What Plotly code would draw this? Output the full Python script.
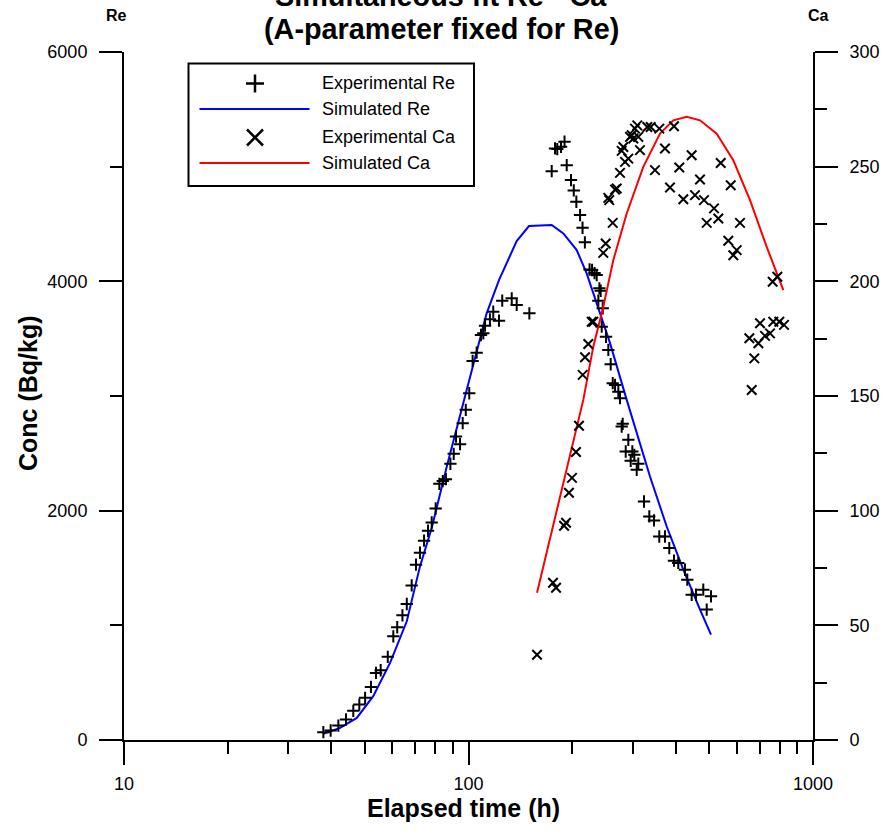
import plotly.graph_objects as go

# ---- data -------------------------------------------------------------
# Experimental Re (elapsed time h, concentration Bq/kg)
re_exp_t = [37.9, 39.8, 41.9, 44.1, 46.3, 48.2, 50.1, 52.1, 53.9, 55.6, 58.3, 60.5, 62.1,
            64.3, 66.2, 68.4, 70.4, 72.3, 74.3, 76.3, 78.2, 80.3, 82.3, 84.2, 86.0, 88.6,
            90.6, 92.0, 94.5, 96.2, 98.2, 100.5, 102.8, 105.6, 108.7, 110.4, 111.7, 115.4,
            118.0, 122.6, 125.3, 133.5, 138.0, 150.2, 174.4, 178.3, 181.0, 185.6, 190.0,
            192.8, 198.4, 202.1, 205.6, 210.8, 214.3, 217.7, 224.6, 228.4, 232.2, 235.6,
            239.8, 242.0, 238.2, 245.3, 243.6, 250.7, 254.6, 258.7, 262.2, 266.3, 272.2,
            275.3, 280.3, 278.4, 291.0, 286.0, 298.9, 302.9, 295.7, 311.1, 307.8, 323.2,
            334.8, 345.5, 357.9, 371.8, 382.7, 394.9, 406.4, 425.0, 431.6, 444.5, 457.5,
            480.3, 505.7, 491.4]
re_exp_c = [68, 83, 126, 179, 254, 309, 368, 463, 585, 608, 725, 904, 983,
            1087, 1186, 1348, 1529, 1633, 1738, 1825, 1897, 2019, 2234, 2258, 2275, 2409,
            2496, 2646, 2580, 2763, 2879, 3024, 3306, 3378, 3532, 3547, 3613, 3669,
            3735, 3657, 3831, 3852, 3794, 3721, 4961, 5159, 5153, 5173, 5218,
            5013, 4883, 4793, 4694, 4578, 4467, 4340, 4103, 4099, 4072, 4055,
            3939, 3918, 3831, 3765, 3605, 3517, 3402, 3277, 3112, 3097, 3038,
            2981, 2757, 2734, 2618, 2516, 2516, 2487, 2435, 2409, 2356, 2080,
            1950, 1915, 1775, 1775, 1674, 1564, 1544, 1485, 1398, 1267, 1267,
            1311, 1253, 1137]

# Simulated Re
re_sim_t = [37.9, 42.4, 47.4, 52.9, 59.2, 66.2, 72.3, 78.2, 86.5, 98.8, 112.9, 122.6,
            138.0, 149.8, 174.4, 188.5, 206.1, 220.3, 240.8, 257.4, 287.9, 336.4, 376.1,
            420.3, 469.9, 505.7]
re_sim_c = [54, 106, 193, 382, 672, 1035, 1514, 1848, 2385, 3053, 3721, 4011,
            4351, 4482, 4491, 4418, 4273, 4070, 3724, 3463, 2966, 2298, 1862,
            1485, 1137, 919]

# Experimental Ca (right axis)
ca_exp_t = [158.1, 175.9, 179.5, 189.4, 191.9, 195.7, 199.7, 205.1, 209.3, 214.5, 217.9,
            222.7, 227.9, 230.3, 246.2, 250.2, 262.2, 256.2, 254.6, 266.3, 269.3, 275.3,
            284.7, 291.0, 281.5, 278.4, 294.3, 297.7, 304.3, 309.0, 314.6, 311.1, 300.9,
            330.4, 338.0, 358.0, 347.8, 371.8, 394.9, 384.5, 409.2, 420.3, 444.5, 454.4,
            469.9, 482.6, 491.4, 516.0, 531.1, 539.7, 567.8, 577.0, 587.0, 600.5, 613.9,
            664.0, 653.4, 675.6, 693.9, 701.8, 725.6, 750.3, 766.9, 798.4, 823.8, 763.8,
            787.7]
ca_exp_c = [37.2, 68.6, 66.4, 93.4, 94.7, 107.8, 114.3, 125.6, 137.0, 159.2, 166.9,
            172.7, 182.4, 182.4, 212.4, 216.5, 225.5, 235.4, 236.4, 240.0, 240.5, 247.3,
            252.1, 253.5, 258.6, 256.9, 263.0, 263.7, 266.6, 268.0, 257.2, 263.0, 262.3,
            267.3, 267.3, 266.6, 248.5, 257.9, 267.6, 240.9, 249.6, 235.8, 255.0, 237.6,
            244.4, 235.4, 225.5, 231.8, 227.4, 251.6, 217.7, 241.9, 211.4, 213.6, 225.5,
            152.6, 175.2, 166.4, 173.0, 181.7, 176.2, 177.3, 182.4, 182.4, 181.0, 199.8,
            202.0]

# Simulated Ca (right axis)
ca_sim_t = [158.1, 170.7, 185.8, 201.3, 215.4, 230.3, 246.2, 263.3, 287.9, 321.7, 359.7,
            393.1, 430.0, 469.9, 525.4, 587.0, 656.4, 734.0, 820.0]
ca_sim_c = [64.2, 85.1, 109.1, 130.9, 148.3, 171.5, 188.9, 209.3, 229.6, 249.9, 264.4,
            270.2, 271.7, 270.2, 264.4, 252.8, 235.4, 215.0, 196.2]

x_tickvals = [10, 100, 1000]
x_minorvals = [20, 30, 40, 50, 60, 70, 80, 90, 200, 300, 400, 500, 600, 700, 800, 900]
re_tickvals = [0, 2000, 4000, 6000]
re_minorvals = [1000, 3000, 5000]
ca_tickvals = [0, 50, 100, 150, 200, 250, 300]
ca_minorvals = [25, 75, 125, 175, 225, 275]

# ---- figure ------------------------------------------------------------
W, H = 884, 830
ML, MR, MT, MB = 124, 71, 52, 90
PW, PH = W - ML - MR, H - MT - MB
FONT = "Liberation Sans, Arial, sans-serif"


def fx(x):
    return (x - ML) / PW


def fy(y):
    return (H - MB - y) / PH


fig = go.Figure()

fig.add_trace(go.Scatter(x=re_sim_t, y=re_sim_c, mode="lines",
                         line=dict(color="#0000FF", width=2), yaxis="y",
                         showlegend=False))
fig.add_trace(go.Scatter(x=re_exp_t, y=re_exp_c, mode="markers",
                         marker=dict(symbol="cross-thin", size=8.8,
                                     line=dict(color="black", width=2)),
                         yaxis="y", showlegend=False))
fig.add_trace(go.Scatter(x=ca_sim_t, y=ca_sim_c, mode="lines",
                         line=dict(color="#FF0000", width=2), yaxis="y2",
                         showlegend=False))
fig.add_trace(go.Scatter(x=ca_exp_t, y=ca_exp_c, mode="markers",
                         marker=dict(symbol="x-thin", size=9.5,
                                     line=dict(color="black", width=2)),
                         yaxis="y2", showlegend=False))

tickfont = dict(family=FONT, size=18, color="black")
common = dict(showline=True, linecolor="black", linewidth=2, ticks="outside",
              ticklen=23, tickwidth=2, tickcolor="black", showgrid=False,
              zeroline=False, tickfont=tickfont, automargin=False)

fig.update_layout(
    width=W, height=H,
    margin=dict(l=ML, r=MR, t=MT, b=MB, pad=0, autoexpand=False),
    plot_bgcolor="white", paper_bgcolor="white",
    showlegend=False,
    xaxis=dict(type="log", range=[1, 3], tickvals=x_tickvals,
               ticktext=[str(v) for v in x_tickvals],
               minor=dict(tickvals=x_minorvals, ticks="outside", ticklen=12,
                          tickwidth=2, tickcolor="black"),
               ticklabelstandoff=3, **common),
    yaxis=dict(range=[0, 6000], tickvals=re_tickvals,
               minor=dict(tickvals=re_minorvals, ticks="outside", ticklen=12,
                          tickwidth=2, tickcolor="black"),
               ticklabelstandoff=8, **common),
    yaxis2=dict(range=[0, 300], tickvals=ca_tickvals, overlaying="y", side="right",
                minor=dict(tickvals=ca_minorvals, ticks="outside", ticklen=12,
                           tickwidth=2, tickcolor="black"),
                ticklabelstandoff=8, **common),
)

ann = []
bold = dict(family=FONT, color="black")
# title (two lines)
ann.append(dict(text="<b>Simultaneous fit Re - Ca</b>", x=fx(441), y=fy(-4),
                font=dict(size=28.8, **bold)))
ann.append(dict(text="<b>(A-parameter fixed for Re)</b>", x=fx(441), y=fy(29),
                font=dict(size=28.8, **bold)))
# axis titles
ann.append(dict(text="<b>Elapsed time (h)</b>", x=fx(463), y=fy(808),
                font=dict(size=25, **bold)))
ann.append(dict(text="<b>Conc (Bq/kg)</b>", x=fx(28), y=fy(393), textangle=-90,
                font=dict(size=25, **bold)))
ann.append(dict(text="<b>Re</b>", x=fx(116), y=fy(16), font=dict(size=16, **bold)))
ann.append(dict(text="<b>Ca</b>", x=fx(818), y=fy(16), font=dict(size=16, **bold)))

# legend entries
legend_rows = [("Experimental Re", 83), ("Simulated Re", 109),
               ("Experimental Ca", 137), ("Simulated Ca", 163)]
for label, yy in legend_rows:
    ann.append(dict(text=label, x=fx(320), y=fy(yy), xanchor="left",
                    font=dict(family=FONT, size=18, color="black")))

for a in ann:
    a.setdefault("xanchor", "center")
    a.update(xref="paper", yref="paper", yanchor="middle", showarrow=False)
fig.update_layout(annotations=ann)

shapes = [dict(type="rect", xref="paper", yref="paper",
               x0=fx(188.5), x1=fx(474), y0=fy(63.5), y1=fy(186),
               line=dict(color="black", width=2), fillcolor="white", layer="above")]


def seg(x0, y0, x1, y1, color="black", width=2.5):
    return dict(type="line", xref="paper", yref="paper",
                x0=fx(x0), y0=fy(y0), x1=fx(x1), y1=fy(y1),
                line=dict(color=color, width=width), layer="above")


# legend symbols
shapes.append(seg(246, 83.5, 264, 83.5))
shapes.append(seg(255, 74.5, 255, 92.5))
shapes.append(seg(199.5, 109, 309.5, 109, "#0000FF", 2))
shapes.append(seg(247, 129.5, 263, 145.5))
shapes.append(seg(247, 145.5, 263, 129.5))
shapes.append(seg(199.5, 163, 309.5, 163, "#FF0000", 2))
fig.update_layout(shapes=shapes)

fig.write_html("out.html")
